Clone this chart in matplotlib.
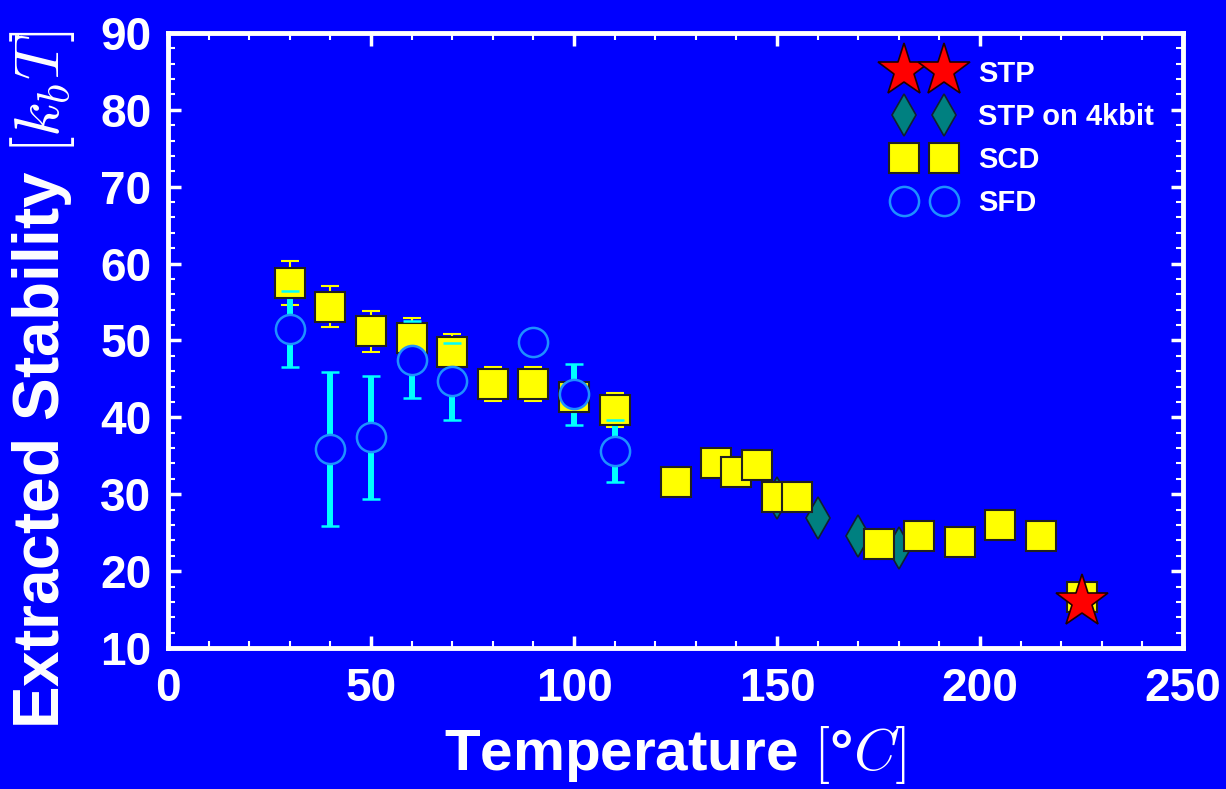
import matplotlib
matplotlib.use("Agg")
import matplotlib.pyplot as plt
from matplotlib.lines import Line2D
from matplotlib.ticker import MultipleLocator

# ---- data -------------------------------------------------------------
stp_T = [225]
stp_E = [16.0]

stp4k_T = [150, 160, 170, 180]
stp4k_E = [29.5, 26.9, 24.6, 23.0]

scd_T = [30, 40, 50, 60, 70, 80, 90, 100, 110, 125, 135, 140, 145, 150,
         155, 175, 185, 195, 205, 215, 225]
scd_E = [57.5, 54.4, 51.2, 50.3, 48.5, 44.3, 44.3, 42.6, 41.0, 31.6, 34.1,
         32.9, 33.8, 29.6, 29.6, 23.5, 24.6, 23.8, 26.0, 24.6, 16.6]
scd_err = [2.9, 2.7, 2.7, 2.6, 2.4, 2.2, 2.2, 1.5, 2.2, 0, 0, 0, 0, 0,
           0, 0, 0, 0, 0, 0, 0]

sfd_T = [30, 40, 50, 60, 70, 90, 100, 110]
sfd_E = [51.5, 35.9, 37.4, 47.5, 44.7, 49.8, 43.0, 35.6]
sfd_err = [5, 10, 8, 5, 5, 0, 4, 4]

x_ticks = [0, 50, 100, 150, 200, 250]
y_ticks = [10, 20, 30, 40, 50, 60, 70, 80, 90]

# ---- style ------------------------------------------------------------
BG = "#0000ff"
plt.rcParams["font.family"] = ["Liberation Sans", "DejaVu Sans"]
plt.rcParams["font.weight"] = "bold"
plt.rcParams["mathtext.fontset"] = "cm"


def with_errors(xs, ys, es):
    """Keep only the points that carry a non-zero error bar."""
    keep = [(x, y, e) for x, y, e in zip(xs, ys, es) if e > 0]
    return [k[0] for k in keep], [k[1] for k in keep], [k[2] for k in keep]


fig = plt.figure(figsize=(12.26, 7.89), dpi=100, facecolor=BG)
ax = fig.add_axes([0.137, 0.1787, 0.828, 0.7795], facecolor=BG)

# SCD error bars (thin yellow)
ex, ey, ee = with_errors(scd_T, scd_E, scd_err)
ax.errorbar(ex, ey, yerr=ee, fmt="none", ecolor="#ffff00",
            elinewidth=1.5, capsize=6.5, capthick=1.5, zorder=2)

# SFD error bars (thick cyan); bars under the squares, caps above
ex, ey, ee = with_errors(sfd_T, sfd_E, sfd_err)
_, sfd_caps, _ = ax.errorbar(ex, ey, yerr=ee, fmt="none",
                             ecolor="#00ffff", elinewidth=4.3,
                             capsize=6.5, capthick=1.8, zorder=2)
for c in sfd_caps:
    c.set_zorder(4)

ax.plot(stp4k_T, stp4k_E, linestyle="none", marker="d", ms=21,
        mfc="#008080", mec="#102030", mew=1.2, zorder=3)
ax.plot(scd_T, scd_E, linestyle="none", marker="s", ms=21,
        mfc="#ffff00", mec="#202020", mew=1.5, zorder=3)
ax.plot(sfd_T, sfd_E, linestyle="none", marker="o", ms=21,
        mfc=BG, mec="#1e90ff", mew=1.8, zorder=5)
ax.plot(stp_T, stp_E, linestyle="none", marker="*", ms=40,
        mfc="#ff0000", mec="#200000", mew=1.2, zorder=6)

ax.set_xlim(0, 250)
ax.set_ylim(10, 90)
ax.set_xticks(x_ticks)
ax.set_yticks(y_ticks)
ax.xaxis.set_minor_locator(MultipleLocator(10))
ax.yaxis.set_minor_locator(MultipleLocator(2))

for s in ax.spines.values():
    s.set_color("white")
    s.set_linewidth(3.5)

ax.tick_params(which="both", direction="in", colors="white",
               top=True, right=True)
ax.tick_params(which="major", length=9, width=2.5, labelsize=33, pad=12)
ax.tick_params(axis="x", which="major", pad=14)
ax.tick_params(which="minor", length=5, width=1.5)
for lab in ax.get_xticklabels() + ax.get_yticklabels():
    lab.set_fontweight("bold")

ax.set_xlabel("Temperature $[$°$C]$", fontsize=42, fontweight="bold",
              color="white", labelpad=9)
ax.set_ylabel("Extracted Stability $[k_b T]$", fontsize=46,
              fontweight="bold", color="white")
ax.yaxis.set_label_coords(-0.09, 0.437)

handles = [
    Line2D([], [], linestyle="none", marker="*", ms=40, mfc="#ff0000",
           mec="#200000", mew=1.2),
    Line2D([], [], linestyle="none", marker="d", ms=21, mfc="#008080",
           mec="#102030", mew=1.2),
    Line2D([], [], linestyle="none", marker="s", ms=21, mfc="#ffff00",
           mec="#202020", mew=1.5),
    Line2D([], [], linestyle="none", marker="o", ms=21, mfc=BG,
           mec="#1e90ff", mew=1.8),
]
labels = ["STP", "STP on 4kbit", "SCD", "SFD"]
leg = ax.legend(handles, labels, numpoints=2, frameon=False,
                loc="upper left", bbox_to_anchor=(0.696, 0.99),
                prop={"family": "Liberation Sans", "weight": "bold",
                      "size": 21},
                handlelength=2.0, handletextpad=0.85, labelspacing=0.52,
                borderaxespad=0.3)
for t in leg.get_texts():
    t.set_color("white")

fig.savefig("out.png", dpi=100, facecolor=BG)
